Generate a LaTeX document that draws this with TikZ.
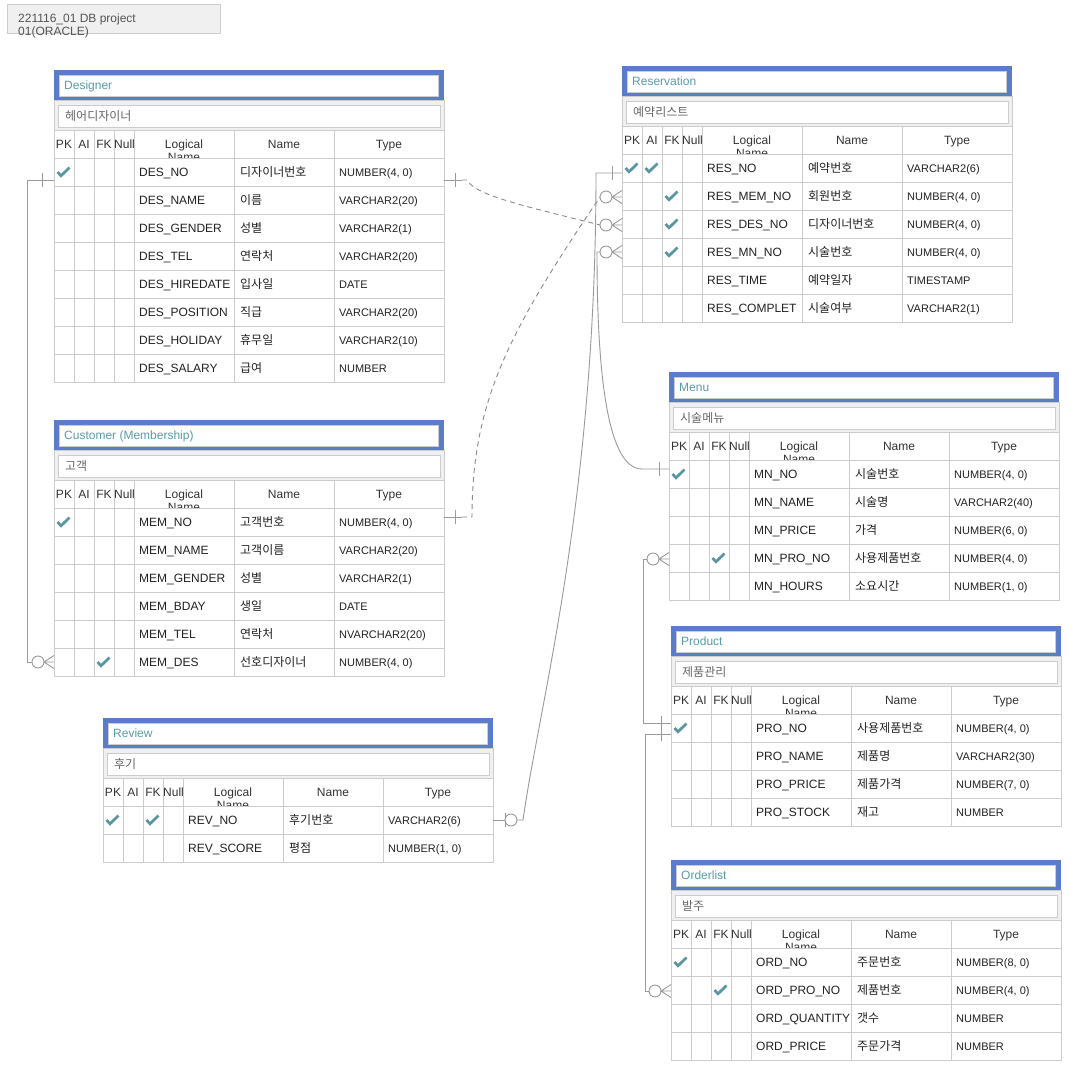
\documentclass[tikz,border=0pt]{standalone}
\usepackage{fontspec}
\setmainfont{Liberation Sans}
\newfontfamily\kr{Noto Sans CJK KR}
\usetikzlibrary{calc}
\definecolor{tblue}{HTML}{5B7CC8}
\definecolor{ttext}{HTML}{5A9BA8}
\definecolor{chkc}{HTML}{5B95A2}
\definecolor{gridc}{HTML}{CCCCCC}
\definecolor{bandc}{HTML}{F0F0F0}
\definecolor{connc}{HTML}{9A9A9A}
\definecolor{dconnc}{HTML}{8A8A8A}
\definecolor{txtc}{HTML}{222222}
\definecolor{hdrc}{HTML}{333333}
\definecolor{cmtc}{HTML}{666666}
\definecolor{notec}{HTML}{555555}
\newcommand\fsz[1]{\fontsize{#1}{#1}\selectfont}
\tikzset{
  gl/.style={line width=0.8pt},
  ttl/.style={inner sep=0pt, anchor=base west, text=ttext, font=\fsz{12}},
  cmt/.style={inner sep=0pt, anchor=base west, text=cmtc, font=\fsz{12}\kr},
  hdr/.style={inner sep=0pt, anchor=base, text=hdrc, font=\fsz{12}},
  cell/.style={inner sep=0pt, anchor=base west, text=txtc, font=\fsz{12}},
  tcell/.style={inner sep=0pt, anchor=base west, text=txtc, font=\fsz{11}},
  chkline/.style={draw=chkc, line width=2.7pt},
  conn/.style={draw=connc, line width=0.9pt},
  dconn/.style={draw=dconnc, line width=0.9pt, dash pattern=on 5pt off 4pt},
}
\newcommand\chk[2]{\draw[chkline] (#1-6.5,#2) -- (#1-3,#2+3.8) -- (#1+5.5,#2-4.5);}
\newcommand\ertable[6]{%
\begin{scope}[shift={(#2,#3)}]
 \fill[tblue] (-0.5,0) rectangle (389.5,30);
 \filldraw[fill=white,draw=gridc,gl] (5,5) rectangle (384.5,26);
 \node[ttl] (#1-title) at (10,19.3) {#4};
 \filldraw[fill=bandc,draw=gridc,gl] (0,30) rectangle (390,60);
 \filldraw[fill=white,draw=gridc,gl] (4,35.5) rectangle (386,57);
 \node[cmt] (#1-comment) at (11,50.4) {#5};
 \filldraw[fill=white,draw=gridc,gl] (0,60) rectangle (390,88);
 \foreach \c in {20,40,60,80,180,280} {\draw[gridc,gl] (\c,60) -- (\c,88);}
 \node[hdr] (#1-hpk) at (10,78.5) {PK};
 \node[hdr] (#1-hai) at (30,78.5) {AI};
 \node[hdr] (#1-hfk) at (50,78.5) {FK};
 \node[hdr] (#1-hnull) at (70.5,78.5) {Null};
 \node[hdr] (#1-hlg) at (130,78.5) {Logical};
 \node[hdr] (#1-hlgb) at (130,91.5) {Name};
 \node[hdr] (#1-hnm) at (230,78.5) {Name};
 \node[hdr] (#1-hty) at (335,78.5) {Type};
 \foreach \lg/\nm/\ty/\pk/\ai/\fk [count=\i] in {#6} {
   \pgfmathsetmacro\ya{60+28*\i}
   \pgfmathsetmacro\yb{\ya+28}
   \pgfmathsetmacro\yc{\ya+14}
   \fill[white] (0,\ya) rectangle (390,\yb);
   \node[cell] (#1-\i-lg) at (85,\yc+4.3) {\lg};
   \node[cell] (#1-\i-nm) at (186,\yc+4.4) {\kr\nm};
   \node[tcell] (#1-\i-ty) at (285,\yc+4) {\ty};
   \draw[gridc,gl] (0,\ya) rectangle (390,\yb);
   \foreach \c in {20,40,60,80,180,280} {\draw[gridc,gl] (\c,\ya) -- (\c,\yb);}
   \ifnum\pk=1 \chk{10}{\yc}\fi
   \ifnum\ai=1 \chk{30}{\yc}\fi
   \ifnum\fk=1 \chk{50}{\yc}\fi
 }
\end{scope}}
\newcommand\crowL[1]{%
 \draw[conn] ($(#1)+(-10,0)$) -- ($(#1)+(0,-6.5)$) ($(#1)+(-10,0)$) -- (#1) ($(#1)+(-10,0)$) -- ($(#1)+(0,6.5)$);
 \draw[conn,fill=white] ($(#1)+(-16,0)$) circle[radius=6pt];}
\newcommand\tick[2]{\draw[conn] ($(#1)+(#2,-7)$) -- ($(#1)+(#2,7)$);}
\begin{document}
\begin{tikzpicture}[x=1pt,y=-1pt]
\useasboundingbox (0,0) rectangle (1088,1066);
\fill[white] (0,0) rectangle (1088,1066);
% title note
\filldraw[fill=bandc,draw=gridc,gl] (7,4) rectangle (220.5,33);
\node[inner sep=0pt,anchor=base west,text=notec,font=\fsz{12}] (note1) at (18,22) {221116\_01 DB project};
\node[inner sep=0pt,anchor=base west,text=notec,font=\fsz{12}] (note2) at (18,35) {01(ORACLE)};

\ertable{des}{54}{70}{Designer}{헤어디자이너}{%
DES\_NO/디자이너번호/NUMBER(4{,} 0)/1/0/0,%
DES\_NAME/이름/VARCHAR2(20)/0/0/0,%
DES\_GENDER/성별/VARCHAR2(1)/0/0/0,%
DES\_TEL/연락처/VARCHAR2(20)/0/0/0,%
DES\_HIREDATE/입사일/DATE/0/0/0,%
DES\_POSITION/직급/VARCHAR2(20)/0/0/0,%
DES\_HOLIDAY/휴무일/VARCHAR2(10)/0/0/0,%
DES\_SALARY/급여/NUMBER/0/0/0}

\ertable{mem}{54}{420}{Customer (Membership)}{고객}{%
MEM\_NO/고객번호/NUMBER(4{,} 0)/1/0/0,%
MEM\_NAME/고객이름/VARCHAR2(20)/0/0/0,%
MEM\_GENDER/성별/VARCHAR2(1)/0/0/0,%
MEM\_BDAY/생일/DATE/0/0/0,%
MEM\_TEL/연락처/NVARCHAR2(20)/0/0/0,%
MEM\_DES/선호디자이너/NUMBER(4{,} 0)/0/0/1}

\ertable{rev}{103}{718}{Review}{후기}{%
REV\_NO/후기번호/VARCHAR2(6)/1/0/1,%
REV\_SCORE/평점/NUMBER(1{,} 0)/0/0/0}

\ertable{res}{622}{66}{Reservation}{예약리스트}{%
RES\_NO/예약번호/VARCHAR2(6)/1/1/0,%
RES\_MEM\_NO/회원번호/NUMBER(4{,} 0)/0/0/1,%
RES\_DES\_NO/디자이너번호/NUMBER(4{,} 0)/0/0/1,%
RES\_MN\_NO/시술번호/NUMBER(4{,} 0)/0/0/1,%
RES\_TIME/예약일자/TIMESTAMP/0/0/0,%
RES\_COMPLET/시술여부/VARCHAR2(1)/0/0/0}

\ertable{mn}{669}{372}{Menu}{시술메뉴}{%
MN\_NO/시술번호/NUMBER(4{,} 0)/1/0/0,%
MN\_NAME/시술명/VARCHAR2(40)/0/0/0,%
MN\_PRICE/가격/NUMBER(6{,} 0)/0/0/0,%
MN\_PRO\_NO/사용제품번호/NUMBER(4{,} 0)/0/0/1,%
MN\_HOURS/소요시간/NUMBER(1{,} 0)/0/0/0}

\ertable{pro}{671}{626}{Product}{제품관리}{%
PRO\_NO/사용제품번호/NUMBER(4{,} 0)/1/0/0,%
PRO\_NAME/제품명/VARCHAR2(30)/0/0/0,%
PRO\_PRICE/제품가격/NUMBER(7{,} 0)/0/0/0,%
PRO\_STOCK/재고/NUMBER/0/0/0}

\ertable{ord}{671}{860}{Orderlist}{발주}{%
ORD\_NO/주문번호/NUMBER(8{,} 0)/1/0/0,%
ORD\_PRO\_NO/제품번호/NUMBER(4{,} 0)/0/0/1,%
ORD\_QUANTITY/갯수/NUMBER/0/0/0,%
ORD\_PRICE/주문가격/NUMBER/0/0/0}

% connection points
\coordinate (desL) at (54,180);
\coordinate (desR) at (444,180);
\coordinate (memR) at (444,517);
\coordinate (memdesL) at (54,662);
\coordinate (resnoL) at (622,173);
\coordinate (resmemL) at (622,197);
\coordinate (resdesL) at (622,225);
\coordinate (resmnL) at (622,252);
\coordinate (mnnoL) at (669,469);
\coordinate (mnproL) at (669,559);
\coordinate (pronoA) at (671,723);
\coordinate (pronoB) at (671,734);
\coordinate (ordproL) at (671,991);
\coordinate (revnoR) at (493,820);

% Designer -> Customer (MEM_DES)
\draw[conn] (desL) -- ++(-27,0) |- ($(memdesL)+(-22,0)$);
\tick{desL}{-12}
\crowL{memdesL}

% Designer -> Reservation (RES_DES_NO), dashed
\draw[conn] (desR) -- ++(18,0);
\tick{desR}{11}
\draw[dconn] ($(desR)+(18,0)$) -- ($(desR)+(23,0)$) .. controls (475,195) and (520,205) .. ($(resdesL)+(-22,0)$);
\crowL{resdesL}

% Customer -> Reservation (RES_MEM_NO), dashed
\draw[conn] (memR) -- ++(18,0);
\tick{memR}{11}
\draw[dconn] ($(memR)+(18,0)$) -- ($(memR)+(28,0)$) .. controls (472,400) and (510,330) .. ($(resmemL)+(-22,0)$);
\crowL{resmemL}

% Reservation -> Review
\draw[conn] (resnoL) -- ++(-26,0) .. controls (596,500) and (540,700) .. ($(revnoR)+(30,0)$) -- ($(revnoR)+(24,0)$);
\tick{resnoL}{-10}
\draw[conn] (revnoR) -- ++(12,0);
\tick{revnoR}{12}
\draw[conn,fill=white] ($(revnoR)+(18,0)$) circle[radius=6pt];

% Menu -> Reservation (RES_MN_NO)
\draw[conn] (mnnoL) -- ++(-27,0) .. controls (605,469) and (597,360) .. ($(resmnL)+(-25,0)$) -- ($(resmnL)+(-22,0)$);
\tick{mnnoL}{-10}
\crowL{resmnL}

% Product -> Menu (MN_PRO_NO)
\draw[conn] (pronoA) -- ++(-28,0) |- ($(mnproL)+(-22,0)$);
\tick{pronoA}{-10}
\crowL{mnproL}

% Product -> Orderlist (ORD_PRO_NO)
\draw[conn] (pronoB) -- ++(-26,0) |- ($(ordproL)+(-22,0)$);
\tick{pronoB}{-10}
\crowL{ordproL}
\end{tikzpicture}
\end{document}
